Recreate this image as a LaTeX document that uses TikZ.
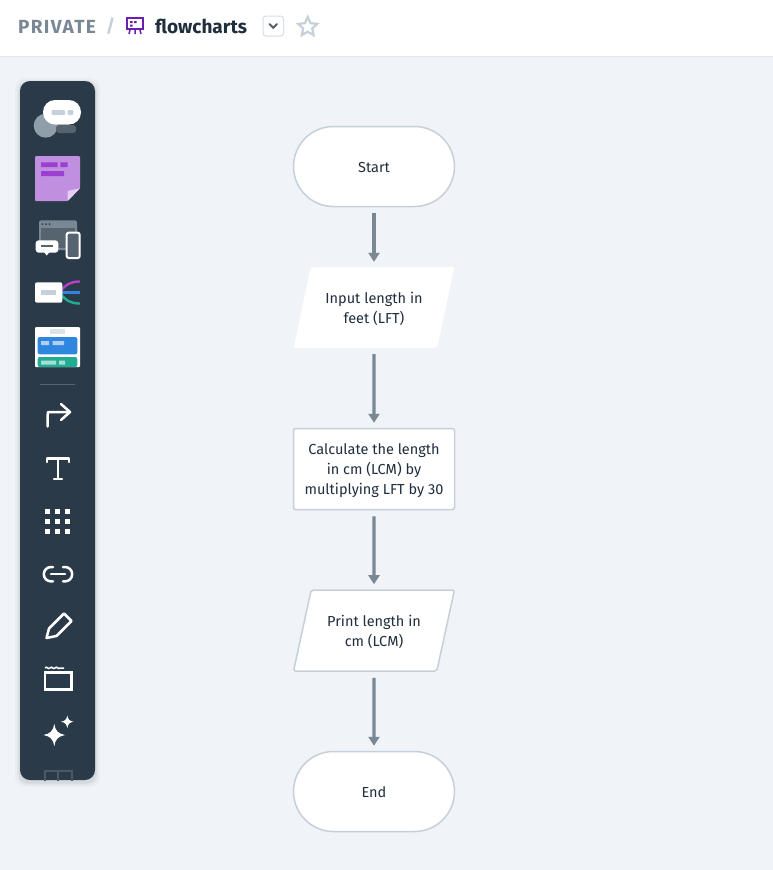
\documentclass[tikz,border=0pt]{standalone}
\usepackage{fontspec}
\setmainfont{Fira Sans}
\newfontfamily\spacedfont[LetterSpace=7]{Fira Sans}
\usetikzlibrary{arrows.meta,shapes.geometric}
\definecolor{pagebg}{HTML}{F0F3F7}
\definecolor{barbg}{HTML}{2B3A48}
\definecolor{barmid}{HTML}{56646F}
\definecolor{edgegray}{HTML}{C5D0DA}
\definecolor{arrowgray}{HTML}{7A8896}
\definecolor{inkdark}{HTML}{1F2D3D}
\definecolor{plum}{HTML}{6A1FB0}
\definecolor{notelight}{HTML}{C08FE0}
\definecolor{notedark}{HTML}{9A3FD0}
\definecolor{notefold}{HTML}{E6CDF2}
\definecolor{mapplum}{HTML}{B13FC9}
\definecolor{mapblue}{HTML}{2F86DE}
\definecolor{mapteal}{HTML}{20AD94}
\newcommand{\toplift}[1]{\rule{0pt}{#1}}
\tikzset{
  flowtext/.style={font=\fontsize{14.5}{20}\selectfont,text=inkdark,align=center},
  terminal/.style={flowtext,draw=edgegray,line width=1.5pt,fill=white,rounded corners=40pt,minimum width=161pt,minimum height=80pt,inner sep=0pt},
  process/.style={flowtext,draw=edgegray,line width=1.5pt,fill=white,rounded corners=2pt,minimum width=161pt,minimum height=81pt,inner sep=0pt},
  iobox/.style={flowtext,trapezium,trapezium left angle=70,trapezium right angle=110,trapezium stretches=true,fill=white,rounded corners=2pt,minimum width=161pt,minimum height=81pt,inner sep=0pt},
  flow/.style={draw=arrowgray,line width=3.2pt,-{Triangle[length=9pt,width=11pt]},shorten <=6pt,shorten >=5pt},
  toolline/.style={draw=white,line width=2.5pt,line cap=round,line join=round},
}
\begin{document}
\begin{tikzpicture}[x=1pt,y=-1pt]
  \useasboundingbox (0,0) rectangle (773,870);
  \fill[pagebg] (0,0) rectangle (773,870);

  \fill[white] (0,0) rectangle (773,56);
  \draw[color=edgegray!50,line width=1pt] (0,56.5) -- (773,56.5);

  \node[anchor=west,inner sep=0pt,font=\fontsize{19}{20}\spacedfont\bfseries,text=arrowgray] (private) at (18,27) {PRIVATE};
  \node[inner sep=0pt,font=\fontsize{18}{20}\selectfont\bfseries,text=edgegray] (slash) at (110.5,26) {/};
  \draw[color=plum,line width=2pt] (127,18) rectangle (143,29);
  \fill[plum] (130,21) rectangle (132.5,23) (134,21) rectangle (136.5,23) (130,24.5) rectangle (132.5,26.5);
  \draw[color=plum,line width=1.5pt] (130,30) -- (129,34) (135,30) -- (135,34) (140,30) -- (141,34);
  \node[anchor=west,inner sep=0pt,font=\fontsize{19}{20}\selectfont\bfseries,text=inkdark] (title) at (155,26) {flowcharts};
  \draw[color=edgegray!70,line width=1pt,fill=white,rounded corners=3pt] (263,16) rectangle (283.5,36);
  \draw[color=arrowgray!70!black,line width=2pt,line cap=round,line join=round] (269.5,24) -- (273.2,27.8) -- (277,24);
  \node[star,star points=5,star point ratio=2.1,draw=edgegray,line width=2.2pt,minimum size=20pt,inner sep=0pt] (favstar) at (307.7,27) {};

  \foreach \s/\o in {5/.025,3/.035,1.5/.05}
    \fill[color=black,opacity=\o,rounded corners=10pt] (20-\s,81-\s+2) rectangle (95+\s,780+\s+2);
  \fill[barbg,rounded corners=10pt] (20,81) rectangle (95,780);

  % comments
  \fill[color=arrowgray!70!edgegray] (45.7,125.7) circle (12);
  \fill[color=barmid,rounded corners=3pt] (56,125) rectangle (76,133);
  \fill[white,rounded corners=12pt] (43,100) rectangle (81,124.5);
  \fill[color=edgegray,rounded corners=1pt] (51.7,110) rectangle (65,115) (67.7,110) rectangle (73.3,115);

  % sticky note
  \fill[color=notelight,rounded corners=1pt] (35,156) -- (80,156) -- (80,188.3) -- (67.7,201) -- (35,201) -- cycle;
  \fill[color=notefold] (80,188.3) -- (67.7,201) -- (67.7,191) -- cycle;
  \fill[color=notedark] (41,162.3) rectangle (57.7,167) (60.3,162.3) rectangle (67.7,167) (41,171) rectangle (64,176);

  % screens
  \fill[color=arrowgray,rounded corners=1.5pt] (39,220.3) rectangle (77,250);
  \fill[color=barmid] (41,228) rectangle (75,248);
  \foreach \i in {42.5,46,49.5}
    \fill[color=barbg] (\i,224) circle (1);
  \draw[draw=white,line width=2pt,fill=barmid,rounded corners=2pt] (66.7,232.7) rectangle (79.7,258);
  \fill[white,rounded corners=3pt] (35.7,240.3) rectangle (58.3,252.7);
  \fill[white] (44,252) -- (49.5,252) -- (46.7,255.5) -- cycle;
  \fill[color=barmid] (41,245) rectangle (53,247);

  % mind map
  \draw[color=mapplum,line width=2.4pt] (60,292) .. controls (66,284) and (71,281.5) .. (80,281.5);
  \draw[color=mapblue,line width=2.4pt] (60,292.5) -- (80,292.5);
  \draw[color=mapteal,line width=2.4pt] (60,293) .. controls (66,301) and (71,303.5) .. (80,303.5);
  \fill[white,rounded corners=2pt] (35,282.3) rectangle (62.3,302.7);
  \fill[color=edgegray] (41,290) rectangle (56.3,295);

  % template
  \fill[white,rounded corners=1pt] (35,327) rectangle (80,367);
  \fill[color=edgegray!60] (50,329.3) rectangle (65,334.3);
  \fill[color=mapblue,rounded corners=2pt] (37.7,337) rectangle (77.3,354.3);
  \fill[color=mapblue!40!white] (41,341) rectangle (49,345) (52.5,341) rectangle (64,345);
  \fill[color=mapteal,rounded corners=2pt] (37.7,357) -- (77.3,357) -- (77.3,367) -- (37.7,367) -- cycle;
  \fill[color=mapteal!40!white] (41,360.5) rectangle (56,364.5) (59,360.5) rectangle (65,364.5);

  \draw[color=barmid,line width=1pt] (40,384.3) -- (75,384.3);

  \draw[toolline] (47.7,426.5) -- (47.7,415) -- (48,412) -- (70,412);
  \draw[toolline] (61,404) -- (70,412) -- (61,420);

  \draw[toolline] (47,462) -- (47,458.5) -- (69,458.5) -- (69,462);
  \draw[toolline] (58,458.5) -- (58,479) (54,479) -- (62,479);

  \foreach \i in {47.7,57.7,67.7}
    \foreach \j in {511,521,531}
      \fill[white] (\i-2.5,\j-2.5) rectangle (\i+2.5,\j+2.5);

  \draw[toolline] (53,567) -- (51,567) arc[start angle=270,end angle=90,radius=7.2] -- (53,581.4);
  \draw[toolline] (63,567) -- (65,567) arc[start angle=-90,end angle=90,radius=7.2] -- (63,581.4);
  \draw[toolline] (51,574.2) -- (65,574.2);

  \draw[toolline] (46.5,638) -- (49,628.5) -- (64,613.5) -- (71.5,621) -- (56.5,636) -- cycle;

  \draw[draw=white,line width=2.5pt] (45,672.5) rectangle (71.5,689.5);
  \draw[draw=white,line width=1.5pt] (45,668) .. controls (47,665.5) and (48,670) .. (50,668) .. controls (52,665.5) and (53,670) .. (55,668) .. controls (57,665.5) and (58,670) .. (60,668) -- (64,668);

  \fill[white] (54.3,724) .. controls (55.5,731) and (58,733.5) .. (65,735) .. controls (58,736.5) and (55.5,739) .. (54.3,746) .. controls (53,739) and (50.5,736.5) .. (43.5,735) .. controls (50.5,733.5) and (53,731) .. (54.3,724) -- cycle;
  \fill[white] (67.3,715.5) .. controls (68,719.5) and (69.5,721) .. (73.5,721.7) .. controls (69.5,722.4) and (68,724) .. (67.3,728) .. controls (66.6,724) and (65,722.4) .. (61,721.7) .. controls (65,721) and (66.6,719.5) .. (67.3,715.5) -- cycle;

  \begin{scope}
    \clip (20,760) rectangle (95,780);
    \draw[color=arrowgray!40!barbg,line width=2pt] (45,771) rectangle (71.5,790) (58,771) -- (58,790);
  \end{scope}

  \node[terminal] (start) at (374,166.5) {\toplift{12.5pt}Start};
  \node[iobox] (input) at (374,307.5) {\toplift{14pt}Input length in\\ feet (LFT)};
  \node[process] (calc) at (374,469) {\toplift{15pt}Calculate the length\\in cm (LCM) by\\multiplying LFT by 30};
  \node[iobox,draw=edgegray,line width=1.5pt] (print) at (374,630.5) {\toplift{14pt}Print length in\\ cm (LCM)};
  \node[terminal] (finish) at (374,791.5) {\toplift{12.5pt}End};

  \path (start) edge[flow] (input);
  \path (input) edge[flow] (calc);
  \path (calc) edge[flow] (print);
  \path (print) edge[flow] (finish);
\end{tikzpicture}
\end{document}
